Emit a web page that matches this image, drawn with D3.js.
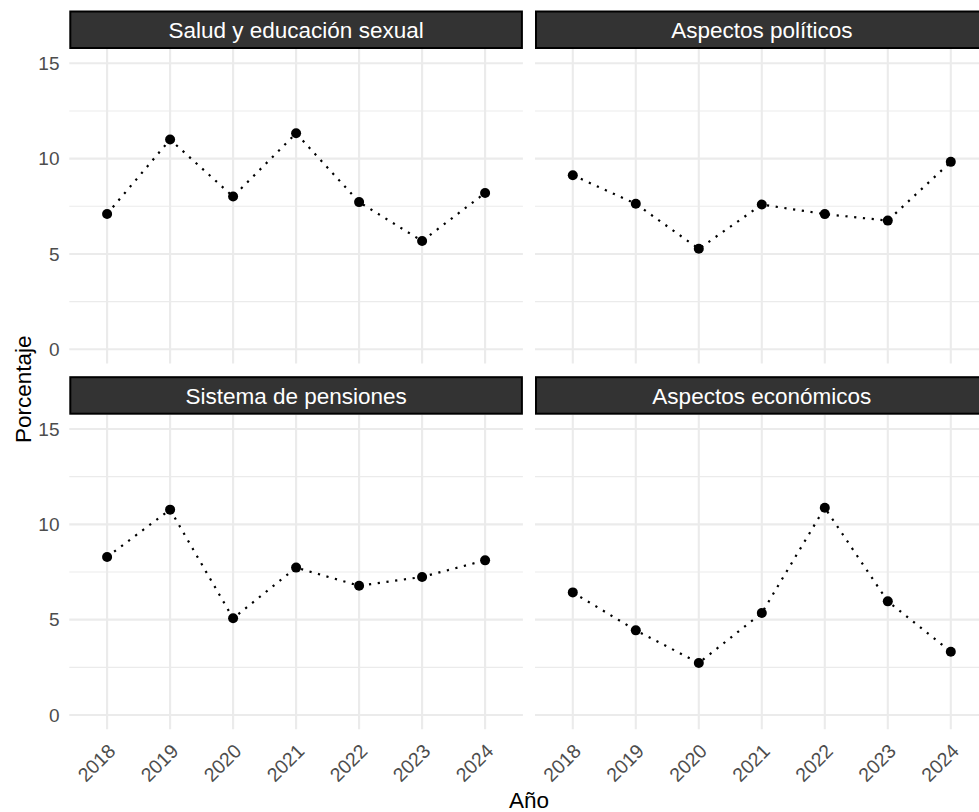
<!DOCTYPE html>
<html>
<head>
<meta charset="utf-8">
<script src="https://cdn.jsdelivr.net/npm/d3@7"></script>
<style>
  body { margin: 0; background: #fff; }
  text { font-family: "Liberation Sans", Arial, Helvetica, sans-serif; }
</style>
</head>
<body>
<div class="chart"></div>
<script>
var width = 979, height = 812;

// data
const years = [2018, 2019, 2020, 2021, 2022, 2023, 2024]
const categorias = ["Salud y educación sexual", "Aspectos políticos", "Sistema de pensiones", "Aspectos económicos"]
const salud      = [7.10, 11.00, 8.01, 11.33, 7.72, 5.68, 8.20]
const politicos  = [9.13, 7.63, 5.27, 7.59, 7.09, 6.75, 9.83]
const pensiones  = [8.29, 10.77, 5.07, 7.73, 6.78, 7.24, 8.11]
const economicos = [6.43, 4.44, 2.73, 5.35, 10.87, 5.96, 3.32]
const yTicks = [0, 5, 10, 15]
const yMinor = [2.5, 7.5, 12.5]

const series = [salud, politicos, pensiones, economicos]

// panel layout (facet_wrap, 2 x 2)
var panelW = 453.6, panelH = 314.6, stripH = 38.5
var colX = [69.3, 535]
var rowY = [49, 414.7]
var grid = "#EBEBEB", axisCol = "#4D4D4D"

var svg = d3.select(".chart")
  .append("svg")
    .attr("width", width)
    .attr("height", height)

const x = d3.scalePoint()
  .domain(years)
  .range([0, panelW])
  .padding(0.6)

const y = d3.scaleLinear()
  .domain([-0.75, 15.75])
  .range([panelH, 0])

const line = d3.line()
  .x((d, i) => x(years[i]))
  .y(d => y(d))

categorias.forEach(function(cat, k) {
  var col = k % 2, row = Math.floor(k / 2)
  var g = svg.append("g")
    .attr("transform", `translate(${colX[col]},${rowY[row]})`)

  // grid
  g.selectAll(".minor").data(yMinor).join("line")
    .attr("x1", 0).attr("x2", panelW)
    .attr("y1", d => y(d)).attr("y2", d => y(d))
    .attr("stroke", grid).attr("stroke-width", 1.1)
  g.selectAll(".major").data(yTicks).join("line")
    .attr("x1", 0).attr("x2", panelW)
    .attr("y1", d => y(d)).attr("y2", d => y(d))
    .attr("stroke", grid).attr("stroke-width", 2.1)
  g.selectAll(".vgrid").data(years).join("line")
    .attr("x1", d => x(d)).attr("x2", d => x(d))
    .attr("y1", 0).attr("y2", panelH)
    .attr("stroke", grid).attr("stroke-width", 2.1)

  // dotted line + points
  g.append("path")
    .datum(series[k])
    .attr("d", line)
    .attr("fill", "none")
    .attr("stroke", "#000")
    .attr("stroke-width", 2.2)
    .attr("stroke-dasharray", "2.2,6.6")

  g.selectAll("circle").data(series[k]).join("circle")
    .attr("cx", (d, i) => x(years[i]))
    .attr("cy", d => y(d))
    .attr("r", 5)
    .attr("fill", "#000")

  // strip
  g.append("rect")
    .attr("x", 1).attr("y", -stripH + 1)
    .attr("width", panelW - 2).attr("height", stripH - 2)
    .attr("fill", "#333333")
    .attr("stroke", "#000")
    .attr("stroke-width", 2)
  g.append("text")
    .attr("x", panelW / 2).attr("y", -11)
    .attr("text-anchor", "middle")
    .attr("fill", "#fff")
    .style("font-size", "22.5px")
    .text(cat)

  // y axis on left column
  if (col === 0) {
    g.selectAll(".ylab").data(yTicks).join("text")
      .attr("x", -9.8)
      .attr("y", d => y(d))
      .attr("dy", "0.36em")
      .attr("text-anchor", "end")
      .attr("fill", axisCol)
      .style("font-size", "19px")
      .text(d => d)
  }

  // x axis on bottom row
  if (row === 1) {
    g.selectAll(".xlab").data(years).join("text")
      .attr("text-anchor", "end")
      .attr("transform", d => `translate(${x(d) + 9.5},${panelH + 23}) rotate(-45)`)
      .attr("fill", axisCol)
      .style("font-size", "19.5px")
      .text(d => d)
  }
})

// axis titles
svg.append("text")
  .attr("x", (colX[0] + colX[1] + panelW) / 2)
  .attr("y", 808)
  .attr("text-anchor", "middle")
  .attr("fill", "#000")
  .style("font-size", "22.5px")
  .text("Año")

svg.append("text")
  .attr("transform", `translate(31,${(rowY[0] + rowY[1] + panelH) / 2}) rotate(-90)`)
  .attr("text-anchor", "middle")
  .attr("fill", "#000")
  .style("font-size", "22.5px")
  .text("Porcentaje")
</script>
</body>
</html>
